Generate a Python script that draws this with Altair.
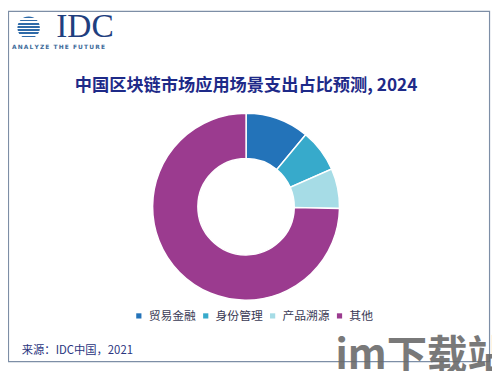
import altair as alt
import pandas as pd

# data
categories = ["贸易金融", "身份管理", "产品溯源", "其他"]
shares = [11.0, 7.4, 6.9, 74.7]
colors = ["#2373b9", "#37aacb", "#a6dce6", "#9b3b8f"]

title_text = "中国区块链市场应用场景支出占比预测, 2024"
source_text = "来源：IDC中国，2021"
logo_text = "IDC"
tagline_text = "\u2009".join("ANALYZE") + "\u00a0\u00a0" + "\u2009".join("THE") + "\u00a0\u00a0" + "\u2009".join("FUTURE")
watermark_text = "im下载站"

df = pd.DataFrame({"cat": categories, "share": shares, "ord": list(range(len(categories)))})

W, H = 492, 363

donut = alt.Chart(df).mark_arc(
    innerRadius=49, outerRadius=95, stroke="white", strokeWidth=1.5
).encode(
    theta=alt.Theta("share:Q", stack=True),
    order=alt.Order("ord:Q"),
    color=alt.Color(
        "cat:N",
        scale=alt.Scale(domain=categories, range=colors),
        sort=categories,
        legend=alt.Legend(
            title=None,
            orient="none",
            legendX=127,
            legendY=304,
            direction="horizontal",
            symbolType="square",
            symbolSize=28,
            symbolStrokeWidth=0,
            labelFontSize=12,
            labelFont="Noto Sans CJK SC",
            labelColor="#3a3a55",
            labelOffset=4,
            columnPadding=3,
        ),
    ),
    x=alt.value(242),
    y=alt.value(199),
)

def txt(text, **kw):
    x = kw.pop("x")
    y = kw.pop("y")
    return alt.Chart(pd.DataFrame({"t": [text]})).mark_text(**kw).encode(
        text="t:N", x=alt.value(x), y=alt.value(y)
    )

title = txt(title_text, x=242, y=76, font="Noto Sans CJK SC", fontSize=17.5,
            fontWeight="bold", color="#1e2a88", align="center", baseline="middle")
source = txt(source_text, x=14, y=346, font="Noto Sans CJK SC", fontSize=11.5,
             color="#2a3580", align="left", baseline="middle")
logo = txt(logo_text, x=49, y=16, font="Liberation Serif", fontSize=34,
           color="#1f3f7f", align="left", baseline="middle")
tagline = txt(tagline_text, x=4, y=37, font="DejaVu Sans", fontSize=6,
              fontWeight="bold", color="#3d6b9a", align="left", baseline="middle")
watermark = txt(watermark_text, x=333, y=364, font="Noto Sans CJK SC", fontSize=41,
                fontWeight="bold", color="#6b6b6b", align="left", baseline="alphabetic",
                opacity=0.9)

stops = []
n = 7
for i in range(n):
    a = i / n
    b = (i + 0.55) / n
    stops += [alt.GradientStop(offset=a, color="#2e6aa8"),
              alt.GradientStop(offset=b, color="#2e6aa8"),
              alt.GradientStop(offset=b, color="#ffffff"),
              alt.GradientStop(offset=(i + 1) / n, color="#ffffff")]
globe = alt.Chart(pd.DataFrame({"t": [1]})).mark_point(
    shape="circle", filled=True, size=520,
    fill=alt.Gradient(gradient="linear", stops=stops, x1=0, x2=0, y1=0, y2=1),
    opacity=1,
).encode(x=alt.value(21), y=alt.value(17))

border = alt.Chart(pd.DataFrame({"t": [1]})).mark_rect(
    fill=None, stroke="#7d8ea6", strokeWidth=1.2
).encode(x=alt.value(0.5), x2=alt.value(489.5), y=alt.value(0.5), y2=alt.value(356.5))

chart = alt.layer(border, donut, title, source, globe, logo, tagline, watermark).properties(
    width=W, height=H, padding=0, autosize=alt.AutoSizeParams(type="none"),
    background="white"
).configure_view(stroke=None)

chart.save("out.html", embed_options={"renderer": "svg", "actions": False})
